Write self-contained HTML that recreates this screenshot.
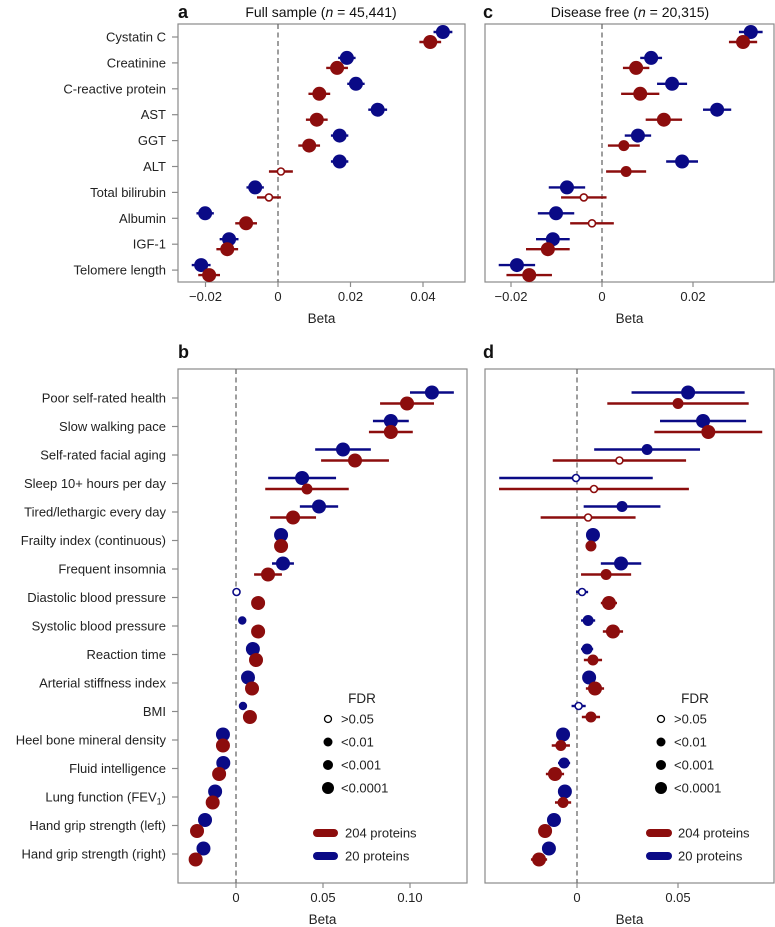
<!DOCTYPE html>
<html><head><meta charset="utf-8"><style>
html,body{margin:0;padding:0;background:#fff}
svg{display:block;font-family:"Liberation Sans",Arial,sans-serif}
</style></head><body>
<svg id="chart" width="775" height="927" viewBox="0 0 775 927" xmlns="http://www.w3.org/2000/svg"></svg>
<script>
// ---- data ----
const topLabels = ["Cystatin C","Creatinine","C-reactive protein","AST","GGT","ALT","Total bilirubin","Albumin","IGF-1","Telomere length"];
const botLabels = ["Poor self-rated health","Slow walking pace","Self-rated facial aging","Sleep 10+ hours per day","Tired/lethargic every day","Frailty index (continuous)","Frequent insomnia","Diastolic blood pressure","Systolic blood pressure","Reaction time","Arterial stiffness index","BMI","Heel bone mineral density","Fluid intelligence","Lung function (FEV1)","Hand grip strength (left)","Hand grip strength (right)"];

const aBlue = [0.0455,0.019,0.0215,0.0275,0.017,0.017,-0.0063,-0.0201,-0.0135,-0.0212];
const aRed  = [0.042,0.0163,0.0114,0.0107,0.0086,0.0008,-0.0025,-0.0088,-0.014,-0.019];
const aBlueCI = [0.0026,0.0024,0.0024,0.0026,0.0024,0.0024,0.0024,0.0024,0.0026,0.0026];
const aRedCI  = [0.003,0.003,0.003,0.003,0.003,0.0033,0.0033,0.003,0.003,0.003];
const aBlueSz = [3,3,3,3,3,3,3,3,3,3];
const aRedSz  = [3,3,3,3,3,0,0,3,3,3];

const cBlue = [0.0327,0.0108,0.0154,0.0253,0.0079,0.0176,-0.0077,-0.0101,-0.0108,-0.0187];
const cRed  = [0.031,0.0075,0.0084,0.0136,0.0048,0.0053,-0.004,-0.0022,-0.0119,-0.016];
const cBlueCI = [0.0026,0.0024,0.0033,0.0031,0.0029,0.0035,0.004,0.004,0.0037,0.004];
const cRedCI  = [0.0031,0.0029,0.0042,0.004,0.0035,0.0044,0.005,0.0048,0.0048,0.005];
const cBlueSz = [3,3,3,3,3,3,3,3,3,3];
const cRedSz  = [3,3,3,3,2,2,0,0,3,3];

const bBlue = [0.1126,0.089,0.0615,0.038,0.0477,0.0259,0.027,0.0003,0.0036,0.0097,0.0069,0.004,-0.0075,-0.0073,-0.012,-0.0178,-0.0187];
const bRed  = [0.0983,0.089,0.0684,0.0408,0.0328,0.0259,0.0184,0.0127,0.0127,0.0115,0.0092,0.008,-0.0075,-0.0097,-0.0134,-0.0224,-0.0232];
const bBlueCI = [0.0126,0.0103,0.016,0.0195,0.011,0.002,0.0063,0.001,0.001,0.001,0.001,0.001,0.001,0.001,0.001,0.001,0.001];
const bRedCI  = [0.0155,0.0126,0.0195,0.024,0.0132,0.002,0.008,0.001,0.001,0.001,0.001,0.001,0.001,0.001,0.001,0.001,0.001];
const bBlueSz = [3,3,3,3,3,3,3,0,1,3,3,1,3,3,3,3,3];
const bRedSz  = [3,3,3,2,3,3,3,3,3,3,3,3,3,3,3,3,3];

const dBlue = [0.055,0.0624,0.0347,-0.0005,0.0223,0.0079,0.0218,0.0025,0.0055,0.005,0.006,0.0008,-0.0069,-0.0064,-0.006,-0.0114,-0.0139];
const dRed  = [0.05,0.065,0.021,0.0084,0.0055,0.0069,0.0144,0.0158,0.0178,0.0079,0.0089,0.0069,-0.008,-0.0109,-0.0069,-0.0158,-0.0188];
const dBlueCI = [0.028,0.0213,0.0262,0.038,0.019,0.001,0.01,0.003,0.0035,0.003,0.003,0.0035,0.003,0.003,0.002,0.002,0.002];
const dRedCI  = [0.035,0.0267,0.033,0.047,0.0235,0.002,0.0124,0.004,0.005,0.0045,0.0045,0.0045,0.0045,0.0045,0.004,0.003,0.004];
const dBlueSz = [3,3,2,0,2,3,3,0,2,2,3,0,3,2,3,3,3];
const dRedSz  = [2,3,0,0,0,2,2,3,3,2,3,2,2,3,2,3,3];

const aTicks = [-0.02,0,0.02,0.04];
const aTickLabels = ["\u22120.02","0","0.02","0.04"];
const cTicks = [-0.02,0,0.02];
const cTickLabels = ["\u22120.02","0","0.02"];
const bTicks = [0,0.05,0.10];
const bTickLabels = ["0","0.05","0.10"];
const dTicks = [0,0.05];
const dTickLabels = ["0","0.05"];

const fdrLabels = [">0.05","<0.01","<0.001","<0.0001"];

// ---- rendering ----
const NS = "http://www.w3.org/2000/svg";
const svg = document.getElementById("chart");
const BLUE = "#0a0a86", RED = "#8c0d0d";
const RADII = [3.5,4.2,5.5,7];
function el(tag, attrs, parent){
  const e = document.createElementNS(NS, tag);
  for (const k in attrs) e.setAttribute(k, attrs[k]);
  (parent||svg).appendChild(e);
  return e;
}
function linScale(d0,d1,r0,r1){return v => r0 + (v-d0)/(d1-d0)*(r1-r0);}

function panel(cfg){
  const g = el("g",{});
  
  
  const x = linScale(cfg.dom[0], cfg.dom[1], cfg.px[0], cfg.px[1]);
  const y = i => cfg.y0 + i*cfg.step;
  const frame = el("rect",{x:cfg.box[0],y:cfg.box[1],width:cfg.box[2]-cfg.box[0],height:cfg.box[3]-cfg.box[1],fill:"none",stroke:"#8a8a8a","stroke-width":1.2},g);
  
  
  const z = el("line",{x1:x(0),x2:x(0),y1:cfg.box[1],y2:cfg.box[3],stroke:"#6a6a6a","stroke-width":1.3,"stroke-dasharray":"5,3.5"},g);
  
  
  cfg.ticks.forEach((t,i)=>{
    const tl = el("line",{x1:x(t),x2:x(t),y1:cfg.box[3],y2:cfg.box[3]+5,stroke:"#8a8a8a","stroke-width":1.2},g);
    
    
    const tx = el("text",{x:x(t),y:cfg.box[3]+19,"text-anchor":"middle","font-size":13,fill:"#222"},g);
    tx.textContent = cfg.tickLabels[i];
    
    
  });
  const xt = el("text",{x:(cfg.box[0]+cfg.box[2])/2,y:cfg.box[3]+41,"text-anchor":"middle","font-size":13.5,fill:"#222"},g);
  xt.textContent = "Beta";
  
  
  if (cfg.labels){
    cfg.labels.forEach((lab,i)=>{
      const tl = el("line",{x1:cfg.box[0]-6,x2:cfg.box[0],y1:y(i),y2:y(i),stroke:"#8a8a8a","stroke-width":1.2},g);
      
      
      const t = el("text",{x:cfg.box[0]-12,y:y(i)+4.5,"text-anchor":"end","font-size":13,fill:"#222"},g);
      if (lab === "Lung function (FEV1)"){
        t.appendChild(document.createTextNode("Lung function (FEV"));
        const s = el("tspan",{"font-size":9,dy:3},t); s.textContent="1";
        const s2 = el("tspan",{dy:-3},t); s2.textContent=")";
      } else t.textContent = lab;
      
      
    });
  }
  function series(vals, ci, sz, color, off, nm){
    vals.forEach((v,i)=>{
      const yy = y(i)+off;
      const l = el("line",{x1:x(v-ci[i]),x2:x(v+ci[i]),y1:yy,y2:yy,stroke:color,"stroke-width":2.4},g);
      
      
      const s = sz[i];
      const c = el("circle",{cx:x(v),cy:yy,r:RADII[s],fill:s===0?"#fff":color,stroke:color,"stroke-width":s===0?1.6:0},g);
      
      
    });
  }
  series(cfg.blue, cfg.blueCI, cfg.blueSz, BLUE, -cfg.off, "20-proteins");
  series(cfg.red, cfg.redCI, cfg.redSz, RED, cfg.off, "204-proteins");
  return g;
}

function text(x,y,s,size,weight,anchor,name){
  const t = el("text",{x:x,y:y,"font-size":size,"font-weight":weight||"normal","text-anchor":anchor||"start",fill:"#111"});
  
  
  return t;
}
text(178,18,"",18,"bold","start","panel-label-a").textContent="a";
let t1 = text(321,17,"",14,"normal","middle","panel-title-a");
t1.innerHTML = 'Full sample (<tspan font-style="italic">n</tspan> = 45,441)';
text(483,18,"",18,"bold","start","panel-label-c").textContent="c";
let t2 = text(630,17,"",14,"normal","middle","panel-title-c");
t2.innerHTML = 'Disease free (<tspan font-style="italic">n</tspan> = 20,315)';
text(178,358,"",18,"bold","start","panel-label-b").textContent="b";
text(483,358,"",18,"bold","start","panel-label-d").textContent="d";

panel({name:"panel-a",box:[178,24,465,282],dom:[0,0.02],px:[278,350.5],ticks:aTicks,tickLabels:aTickLabels,
  labels:topLabels,y0:37,step:25.9,off:5,blue:aBlue,red:aRed,blueCI:aBlueCI,redCI:aRedCI,blueSz:aBlueSz,redSz:aRedSz});
panel({name:"panel-c",box:[485,24,774,282],dom:[0,0.02],px:[602,693],ticks:cTicks,tickLabels:cTickLabels,
  labels:null,y0:37,step:25.9,off:5,blue:cBlue,red:cRed,blueCI:cBlueCI,redCI:cRedCI,blueSz:cBlueSz,redSz:cRedSz});
panel({name:"panel-b",box:[178,369,467,883],dom:[0,0.05],px:[236,323],ticks:bTicks,tickLabels:bTickLabels,
  labels:botLabels,y0:398,step:28.5,off:5.5,blue:bBlue,red:bRed,blueCI:bBlueCI,redCI:bRedCI,blueSz:bBlueSz,redSz:bRedSz});
panel({name:"panel-d",box:[485,369,774,883],dom:[0,0.05],px:[577,678],ticks:dTicks,tickLabels:dTickLabels,
  labels:null,y0:398,step:28.5,off:5.5,blue:dBlue,red:dRed,blueCI:dBlueCI,redCI:dRedCI,blueSz:dBlueSz,redSz:dRedSz});

function legend(cx, tx, fx, lx0, lx1, ltx, nm){
  const g = el("g",{});
  
  
  const h = el("text",{x:fx,y:703,"text-anchor":"middle","font-size":13.5,fill:"#222"},g);
  h.textContent = "FDR";
  
  
  const ys=[719,742,765,788], rr=[3.5,4.5,5,6];
  fdrLabels.forEach((lab,i)=>{
    const c = el("circle",{cx:cx,cy:ys[i],r:rr[i],fill:i===0?"#fff":"#000",stroke:"#000","stroke-width":i===0?1.3:0},g);
    
    
    const t = el("text",{x:tx,y:ys[i]+4.5,"font-size":13,fill:"#222"},g);
    t.textContent = lab;
    
    
  });
  [["204 proteins",RED,833],["20 proteins",BLUE,856]].forEach(([lab,col,yy])=>{
    const l = el("line",{x1:lx0,x2:lx1,y1:yy,y2:yy,stroke:col,"stroke-width":8,"stroke-linecap":"round"},g);
    
    
    const t = el("text",{x:ltx,y:yy+4.5,"font-size":13,fill:"#222"},g);
    t.textContent = lab;
    
    
  });
}
legend(328,341,362,317,334,345,"legend-b");
legend(661,674,695,650,668,678,"legend-d");
</script>
</body></html>
